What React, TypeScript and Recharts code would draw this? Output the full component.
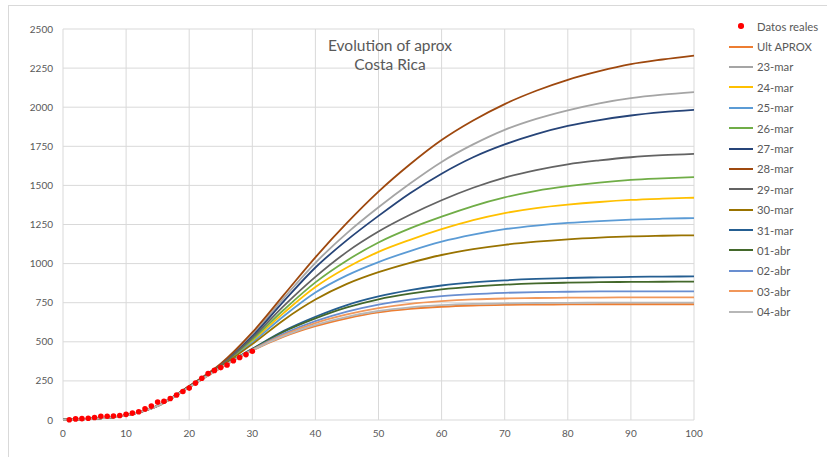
import React from 'react';
import { ComposedChart, Line, XAxis, YAxis, CartesianGrid } from 'recharts';

// x positions of the fitted curves
const XS = [0, 5, 10, 15, 20, 25, 30, 35, 40, 45, 50, 55, 60, 65, 70, 75, 80, 85, 90, 95, 100];

// fitted approximations
const ULT = [2, 9, 30, 90, 210, 333, 444, 533, 600, 650, 688, 710, 724, 732, 736, 738, 739, 740, 740, 740, 740];
const M23 = [2, 9, 30, 91, 215, 355, 545, 780, 1005, 1195, 1360, 1512, 1650, 1762, 1855, 1925, 1980, 2025, 2058, 2080, 2096];
const M24 = [2, 9, 30, 91, 213, 346, 505, 685, 850, 975, 1075, 1152, 1220, 1278, 1323, 1355, 1377, 1394, 1407, 1415, 1421];
const M25 = [2, 9, 30, 91, 212, 344, 495, 665, 815, 925, 1010, 1080, 1140, 1185, 1220, 1243, 1260, 1272, 1281, 1287, 1291];
const M26 = [2, 9, 30, 91, 214, 348, 515, 705, 880, 1020, 1135, 1225, 1300, 1368, 1423, 1465, 1495, 1518, 1535, 1545, 1553];
const M27 = [2, 9, 30, 91, 215, 352, 535, 760, 975, 1150, 1305, 1450, 1575, 1680, 1762, 1828, 1880, 1918, 1947, 1968, 1983];
const M28 = [2, 9, 30, 92, 218, 360, 560, 800, 1040, 1260, 1460, 1635, 1790, 1915, 2020, 2105, 2175, 2230, 2275, 2305, 2330];
const M29 = [2, 9, 30, 91, 214, 350, 525, 730, 915, 1075, 1205, 1312, 1405, 1485, 1550, 1598, 1635, 1660, 1680, 1693, 1702];
const M30 = [2, 9, 30, 90, 212, 342, 485, 640, 770, 870, 945, 1005, 1055, 1092, 1120, 1140, 1155, 1166, 1174, 1178, 1181];
const M31 = [2, 9, 30, 90, 211, 338, 455, 570, 660, 735, 790, 830, 860, 880, 893, 902, 908, 912, 915, 917, 918];
const A01 = [2, 9, 30, 90, 211, 338, 453, 565, 650, 720, 772, 808, 835, 853, 865, 873, 878, 881, 883, 884, 885];
const A02 = [2, 9, 30, 90, 210, 336, 450, 552, 632, 693, 738, 770, 792, 805, 813, 818, 820, 822, 822, 823, 823];
const A03 = [2, 9, 30, 90, 210, 335, 448, 545, 620, 675, 715, 743, 760, 771, 777, 780, 782, 783, 784, 784, 784];
const A04 = [2, 9, 30, 90, 210, 334, 446, 538, 608, 660, 697, 720, 734, 742, 746, 748, 749, 750, 750, 750, 750];

// real data
const DAYS = [1, 2, 3, 4, 5, 6, 7, 8, 9, 10, 11, 12, 13, 14, 15, 16, 17, 18, 19, 20, 21, 22, 23, 24, 25, 26, 27, 28, 29, 30];
const REAL = [2, 7, 9, 11, 16, 24, 24, 26, 29, 36, 44, 53, 71, 89, 115, 120, 137, 160, 182, 204, 236, 267, 297, 317, 335, 352, 379, 400, 418, 440];

const X_TICKS = [0, 10, 20, 30, 40, 50, 60, 70, 80, 90, 100];
const Y_TICKS = [0, 250, 500, 750, 1000, 1250, 1500, 1750, 2000, 2250, 2500];

const SERIES = [
  { key: 'ult', name: 'Ult APROX', values: ULT, color: '#ED7D31' },
  { key: 'm23', name: '23-mar', values: M23, color: '#A5A5A5' },
  { key: 'm24', name: '24-mar', values: M24, color: '#FFC000' },
  { key: 'm25', name: '25-mar', values: M25, color: '#5B9BD5' },
  { key: 'm26', name: '26-mar', values: M26, color: '#70AD47' },
  { key: 'm27', name: '27-mar', values: M27, color: '#264478' },
  { key: 'm28', name: '28-mar', values: M28, color: '#9E480E' },
  { key: 'm29', name: '29-mar', values: M29, color: '#636363' },
  { key: 'm30', name: '30-mar', values: M30, color: '#997300' },
  { key: 'm31', name: '31-mar', values: M31, color: '#255E91' },
  { key: 'a01', name: '01-abr', values: A01, color: '#43682B' },
  { key: 'a02', name: '02-abr', values: A02, color: '#698ED0' },
  { key: 'a03', name: '03-abr', values: A03, color: '#F1975A' },
  { key: 'a04', name: '04-abr', values: A04, color: '#B7B7B7' },
];

const rows = XS.map((x, i) => {
  const r: any = { x };
  SERIES.forEach((s) => { r[s.key] = s.values[i]; });
  return r;
});
const dots = DAYS.map((d, i) => ({ x: d, real: REAL[i] }));

const FONT = 'Lato, "Open Sans", sans-serif';
const TEXT = '#595959';

export default function App() {
  return (
    <div style={{ position: 'absolute', left: 0, top: 0, width: 827, height: 457, background: '#fff', fontFamily: FONT, overflow: 'hidden' }}>
      <div style={{ position: 'absolute', left: 8, top: 5, width: 819, height: 452, borderLeft: '1px solid #d9d9d9', borderTop: '1px solid #d9d9d9', boxSizing: 'border-box' }} />
      <div style={{ position: 'absolute', left: 0, top: 0 }}>
        <ComposedChart width={827} height={457} data={rows} margin={{ top: 29, right: 133, left: 23, bottom: 7 }}>
          <CartesianGrid stroke="#d9d9d9" strokeWidth={1} />
          <XAxis
            type="number"
            dataKey="x"
            domain={[0, 100]}
            ticks={X_TICKS}
            tickLine={false}
            axisLine={false}
            tickMargin={4}
            height={30}
            tick={{ fill: TEXT, fontSize: 10, fontFamily: FONT }}
          />
          <YAxis
            type="number"
            domain={[0, 2500]}
            ticks={Y_TICKS}
            tickLine={false}
            axisLine={false}
            tickMargin={4}
            width={40}
            tick={{ fill: TEXT, fontSize: 10, fontFamily: FONT }}
          />
          {SERIES.map((s) => (
            <Line
              key={s.key}
              type="monotone"
              dataKey={s.key}
              stroke={s.color}
              strokeWidth={1.8}
              dot={false}
              activeDot={false}
              isAnimationActive={false}
            />
          ))}
          <Line
            data={dots}
            dataKey="real"
            stroke="none"
            dot={{ r: 2.8, fill: '#FF0000', stroke: 'none' }}
            activeDot={false}
            isAnimationActive={false}
          />
        </ComposedChart>
      </div>
      <div style={{ position: 'absolute', left: 290, top: 36, width: 200, textAlign: 'center', fontSize: 15.5, lineHeight: '19px', color: TEXT }}>
        <div>Evolution of aprox</div>
        <div>Costa Rica</div>
      </div>
      <div style={{ position: 'absolute', left: 729, top: 16, fontSize: 11.3, color: TEXT }}>
        <div style={{ height: 20.4, display: 'flex', alignItems: 'center' }}>
          <div style={{ width: 24, display: 'flex', justifyContent: 'center' }}>
            <div style={{ width: 5.5, height: 5.5, borderRadius: '50%', background: '#FF0000' }} />
          </div>
          <span style={{ marginLeft: 4 }}>Datos reales</span>
        </div>
        {SERIES.map((s) => (
          <div key={s.key} style={{ height: 20.4, display: 'flex', alignItems: 'center' }}>
            <div style={{ width: 24, height: 2, background: s.color }} />
            <span style={{ marginLeft: 4 }}>{s.name}</span>
          </div>
        ))}
      </div>
    </div>
  );
}
